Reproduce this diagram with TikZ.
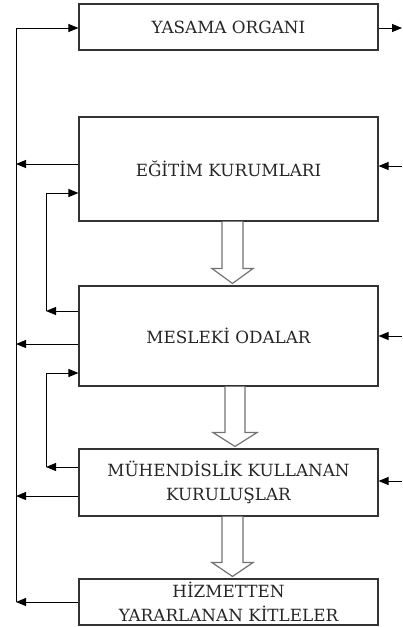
\documentclass[tikz,border=0pt]{standalone}
\usepackage{fontspec}
\setmainfont{DejaVu Serif}
\usetikzlibrary{arrows.meta,calc}
\begin{document}
\begin{tikzpicture}[x=1pt,y=-1pt,
  box/.style={draw=black!80,line width=1.1pt,minimum width=299pt,inner sep=0pt,align=center,
    font=\fontsize{16.8}{24}\selectfont,text=black!85},
  arr/.style={line width=1pt,-{Triangle[length=10pt,width=8pt]}},
  ln/.style={line width=1pt},
  hollow/.style={draw=black!55,line width=1.2pt,fill=white}]
\useasboundingbox (0,0) rectangle (402,627);
\node[box,minimum height=46pt] (b1) at (228.5,27) {YASAMA ORGANI};
\node[box,minimum height=104pt] (b2) at (228.5,169) {EĞİTİM KURUMLARI};
\node[box,minimum height=100pt] (b3) at (228.5,336) {MESLEKİ ODALAR};
\node[box,minimum height=67pt] (b4) at (228.5,482.5) {MÜHENDİSLİK KULLANAN\\KURULUŞLAR};
\node[box,minimum height=46pt] (b5) at (228.5,602) {HİZMETTEN\\YARARLANAN KİTLELER};
% hollow arrows
\draw[hollow] ($(b2.south)+(-6.5,0)$) -- ($(b2.south)+(-6.5,47)$) -- ($(b2.south)+(-16.5,47)$)
  -- ($(b3.north)+(4,-2)$) -- ($(b2.south)+(24.5,47)$) -- ($(b2.south)+(14.5,47)$) -- ($(b2.south)+(14.5,0)$);
\draw[hollow] ($(b3.south)+(-3.5,0)$) -- ($(b3.south)+(-3.5,46)$) -- ($(b3.south)+(-15.5,46)$)
  -- ($(b4.north)+(6.5,-2)$) -- ($(b3.south)+(28.5,46)$) -- ($(b3.south)+(16.5,46)$) -- ($(b3.south)+(16.5,0)$);
\draw[hollow] ($(b4.south)+(-6.5,0)$) -- ($(b4.south)+(-6.5,46)$) -- ($(b4.south)+(-16.5,46)$)
  -- ($(b5.north)+(4,-2)$) -- ($(b4.south)+(24.5,46)$) -- ($(b4.south)+(14.5,46)$) -- ($(b4.south)+(14.5,0)$);
% outer feedback line
\coordinate (o1) at (16,28);
\coordinate (o5) at (16,602);
\draw[ln] (o5) -- (o1);
\draw[arr] (o1) -- (b1.west |- o1);
\draw[arr] (b2.west |- 0,164) -- (16,164);
\draw[arr] (b3.west |- 0,344) -- (16,344);
\draw[arr] (b4.west |- 0,496) -- (16,496);
\draw[arr] (b5.west |- o5) -- (o5);
% inner feedback
\coordinate (i2) at (46,193);
\coordinate (i3) at (46,311);
\coordinate (j3) at (46,373);
\coordinate (j4) at (46,467);
\draw[arr] (b3.west |- i3) -- (i3);
\draw[ln] (i3) -- (i2);
\draw[arr] (i2) -- (b2.west |- i2);
\draw[arr] (b4.west |- j4) -- (j4);
\draw[ln] (j4) -- (j3);
\draw[arr] (j3) -- (b3.west |- j3);
% right side
\coordinate (r1) at (402,28);
\coordinate (r2) at (402,166);
\coordinate (r3) at (402,336);
\coordinate (r4) at (402,481);
\draw[arr] (b1.east |- r1) -- (r1);
\draw[arr] (r2) -- (b2.east |- r2);
\draw[arr] (r3) -- (b3.east |- r3);
\draw[arr] (r4) -- (b4.east |- r4);
\end{tikzpicture}
\end{document}
